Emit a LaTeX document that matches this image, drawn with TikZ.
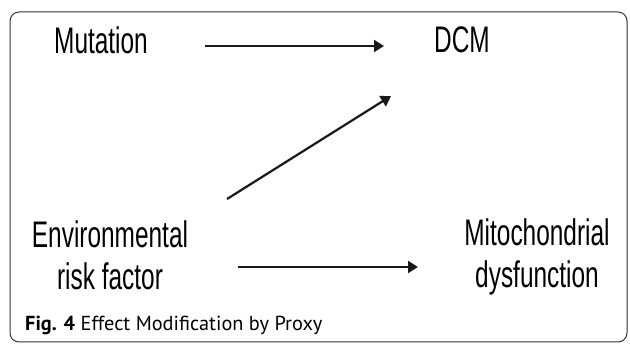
\documentclass[tikz,border=0pt]{standalone}
\usepackage{fontspec}
\setmainfont{Liberation Sans}
\newfontfamily\narrowfont[FakeStretch=0.66]{Liberation Sans}
\newfontfamily\capfont{PT Sans}
\usetikzlibrary{arrows.meta}
\begin{document}
\begin{tikzpicture}[x=1pt,y=-1pt,
  label/.style={font=\narrowfont\fontsize{37}{42}\selectfont, align=center, inner sep=0pt},
  link/.style={line width=2.2pt, -{Triangle[length=10pt,width=12pt]}, black!90}]
\useasboundingbox (0,0) rectangle (630,344);
% outer frame
\draw[line width=1pt, rounded corners=9pt, black!80] (10,12) rectangle (627,342);
% nodes
\node[label] (mut) at (101,40) {Mutation};
\node[label] (dcm) at (462,40) {DCM};
\node[label] (env) at (110,255) {Environmental\\risk factor};
\node[label] (mito) at (537,257) {Mitochondrial\\dysfunction};
\coordinate (envtop) at (227,199);
\coordinate (dcmlow) at (391,96);
% connectors
\draw[link] (205,46) -- (384,46);
\draw[link] (envtop) -- (dcmlow);
\draw[link] (238,267) -- (418,267);
% caption
\node[anchor=base west, inner sep=0pt, font=\capfont\fontsize{20.3}{23}\selectfont] (cap) at (25,331) {\textbf{Fig. 4} Effect Modification by Proxy};
\end{tikzpicture}
\end{document}
